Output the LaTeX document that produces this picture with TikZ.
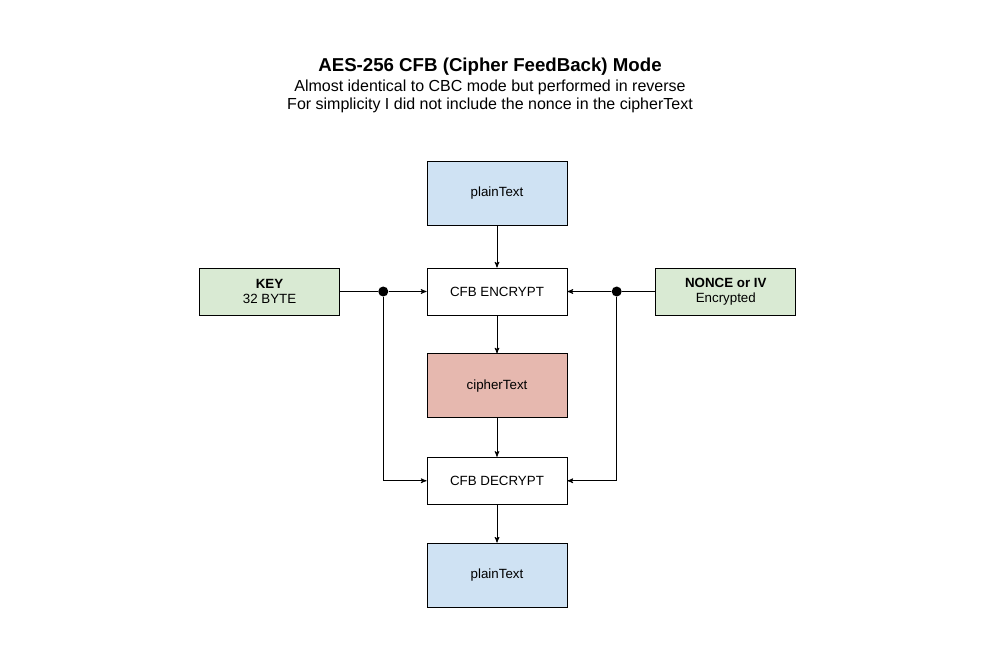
\documentclass[tikz,border=0pt]{standalone}
\usepackage{fontspec}
\setmainfont{Liberation Sans}
\usetikzlibrary{arrows,positioning,calc}

\definecolor{plainblue}{HTML}{CFE2F3}
\definecolor{keygreen}{HTML}{D9EAD3}
\definecolor{cipherred}{HTML}{E6B8AF}

\begin{document}
\begin{tikzpicture}[x=0.75pt,y=-0.75pt,>=stealth',auto,node distance=28.5pt and 65pt,
    box/.style={draw,line width=0.6pt,minimum width=105pt,minimum height=35.25pt,font=\fontsize{10}{11.5}\selectfont,align=center},
    tallbox/.style={box,minimum height=48pt},
    dot/.style={circle,fill,inner sep=0pt,minimum size=7.5pt}]

            \useasboundingbox (0,0) rectangle (984,646);

            \node[font=\bfseries\fontsize{14}{16}\selectfont] (title) at (490,67) {AES-256 CFB (Cipher FeedBack) Mode};
            \node[font=\fontsize{12}{14}\selectfont] (sub1) at (490,87) {Almost identical to CBC mode but performed in reverse};
            \node[font=\fontsize{12}{14}\selectfont] (sub2) at (490,105) {For simplicity I did not include the nonce in the cipherText};

            \node[box] (enc) at (497,291.5) {CFB ENCRYPT};

            \node[tallbox,fill=plainblue] (plain) [above=31.5pt of enc] {plainText};

            \node[tallbox,fill=cipherred] (cipher) [below=of enc] {cipherText};

            \node[box] (dec) [below=29pt of cipher] {CFB DECRYPT};

            \node[tallbox,fill=plainblue] (plainout) [below=of dec] {plainText};

            \node[box,fill=keygreen] (key) [left=of enc] {\textbf{KEY}\\32 BYTE};

            \node[box,fill=keygreen] (nonce) [right=66pt of enc] {\textbf{NONCE or IV}\\Encrypted};

            

            \node[dot] (kdot) at ($(key.east)!0.5!(enc.west)$) {};

            \node[dot] (ndot) at ($(enc.east)!0.56!(nonce.west)$) {};

            

            \path[->,line width=0.6pt] (plain) edge (enc)

                      (enc) edge (cipher)

                      (cipher) edge (dec)

                      (dec) edge (plainout)

                      (kdot) edge (enc)

                      (ndot) edge (enc);

            \draw[line width=0.6pt] (key) -- (kdot);

            \draw[line width=0.6pt] (nonce) -- (ndot);

            \draw[->,line width=0.6pt] (kdot) |- (dec);

            \draw[->,line width=0.6pt] (ndot) |- (dec);

        \end{tikzpicture}
\end{document}
